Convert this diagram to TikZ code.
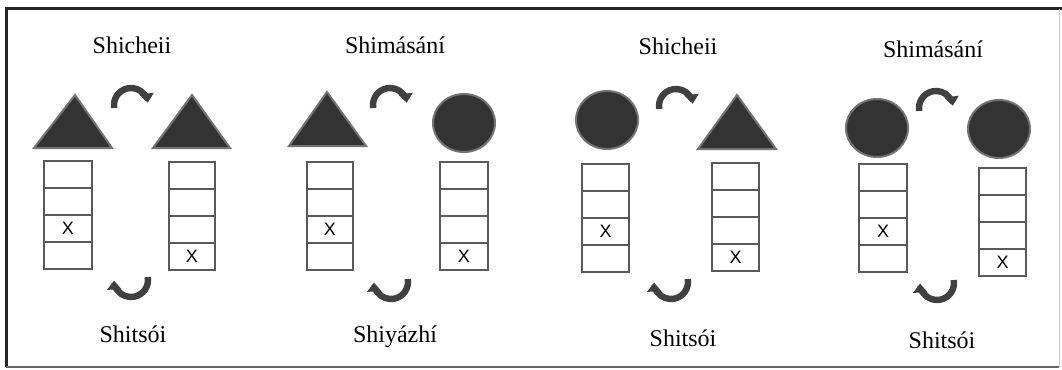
\documentclass[tikz,border=0pt]{standalone}
\usepackage{fontspec}
\setmainfont{Liberation Serif}
\newfontfamily\cellfont{Liberation Sans}
\usetikzlibrary{arrows.meta}

% one column of four cells; #1,#2 = top-left corner, #3 = width, #4 = row holding the X
\newcommand{\cellstack}[5]{%
  \begin{scope}[shift={(#1,#2)}]
    \foreach \r in {0,1,2,3}
      \draw[cellline] (0,\r*27) rectangle (#3,\r*27+27);
    \node[xmark] (#5) at (#3/2,#4*27-13.5) {X};
  \end{scope}}

\begin{document}
\begin{tikzpicture}[x=0.5pt,y=-0.5pt,
  frameline/.style={line width=1.5pt,draw=black!85},
  cellline/.style={line width=0.6pt,draw=black!65},
  xmark/.style={font=\cellfont\fontsize{9}{10}\selectfont,inner sep=0pt},
  label/.style={font=\fontsize{12}{14}\selectfont,inner sep=0pt},
  token/.style={fill=black!80,draw=black!55,line width=1pt},
  turn/.style={line width=3.2pt,draw=black!75,
    -{Triangle[width=7pt,length=4.5pt]}},
]
\useasboundingbox (0,0) rectangle (1062,370);

% frame
\draw[frameline] (6,367) -- (6,8.5) -- (1062,8.5);
\draw[line width=0.8pt,draw=black!60] (6,367) -- (1059,367);
\draw[line width=0.5pt,draw=black!20] (1059,8.5) -- (1059,367);

% labels
\node[label] (t1) at (132,45) {Shicheii};
\node[label] (b1) at (133,334) {Shitsói};
\node[label] (t2) at (395,45) {Shimásání};
\node[label] (b2) at (395,337) {Shiyázhí};
\node[label] (t3) at (678,46) {Shicheii};
\node[label] (b3) at (683,338) {Shitsói};
\node[label] (t4) at (933,49) {Shimásání};
\node[label] (b4) at (942,340) {Shitsói};

% tokens
\path[token] (75,95) -- (112,148) -- (34,148) -- cycle;
\path[token] (192,95) -- (230,148) -- (153,148) -- cycle;
\path[token] (327,92) -- (366,146) -- (289,146) -- cycle;
\path[token] (464,123) ellipse[x radius=31,y radius=29];
\path[token] (607,120) ellipse[x radius=31,y radius=29];
\path[token] (737,95) -- (776,149) -- (698,149) -- cycle;
\path[token] (877,128) ellipse[x radius=31,y radius=29];
\path[token] (999,129) ellipse[x radius=31,y radius=29];

% cell columns
\cellstack{44}{161}{48}{3}{x1a}
\cellstack{169}{162}{46}{4}{x1b}
\cellstack{307}{162}{46}{3}{x2a}
\cellstack{440}{162}{48}{4}{x2b}
\cellstack{582}{164}{47}{3}{x3a}
\cellstack{712}{163}{47}{4}{x3b}
\cellstack{859}{164}{48}{3}{x4a}
\cellstack{979}{168}{47}{4}{x4b}

% turn arrows above
\foreach \cx/\cy in {131/105, 390/105, 676/106, 936/108}
  \draw[turn] (\cx,\cy) ++(170:17) arc[start angle=170,end angle=352,radius=17];
% turn arrows below
\foreach \cx/\cy in {131/280, 391/282, 671/282, 937/283}
  \draw[turn] (\cx,\cy) ++(-10:17) arc[start angle=-10,end angle=178,radius=17];
\end{tikzpicture}
\end{document}
